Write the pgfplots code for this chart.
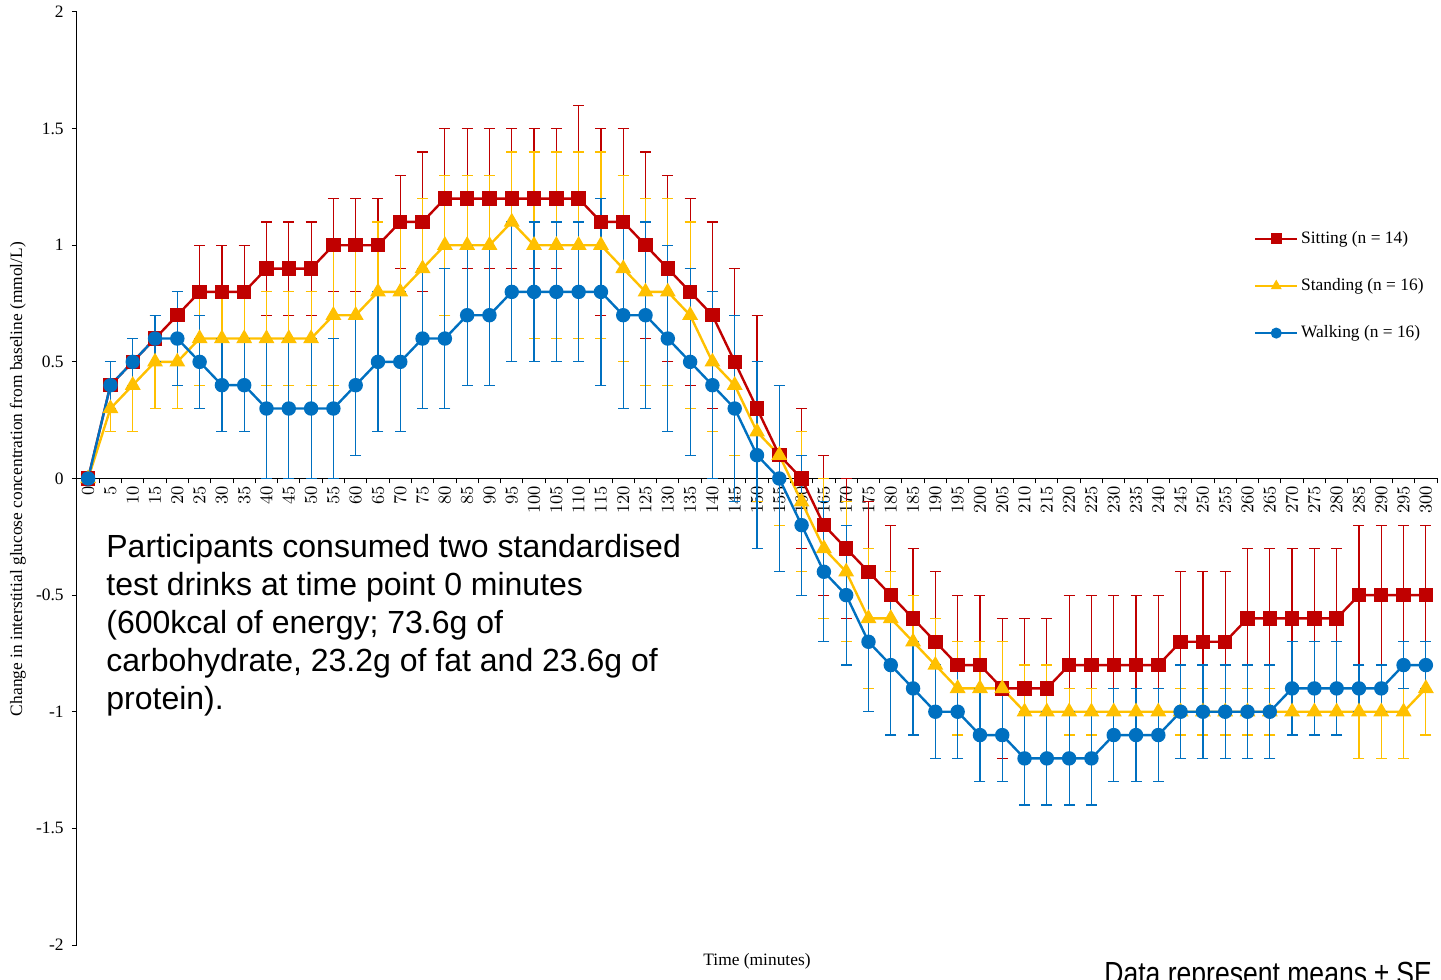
\documentclass[border=0pt]{standalone}
\usepackage{fontspec}
\setmainfont{Liberation Serif}
\newfontfamily\arial{Liberation Sans}
\usepackage{pgfplots}
\pgfplotsset{compat=1.18}
\usepackage{pgfplotstable}
\definecolor{sitC}{HTML}{C00000}
\definecolor{staC}{HTML}{FFC000}
\definecolor{walC}{HTML}{0070C0}

\pgfplotstableread{
t m e
0 0 0
5 0.4 0.1
10 0.5 0.1
15 0.6 0.1
20 0.7 0.1
25 0.8 0.2
30 0.8 0.2
35 0.8 0.2
40 0.9 0.2
45 0.9 0.2
50 0.9 0.2
55 1.0 0.2
60 1.0 0.2
65 1.0 0.2
70 1.1 0.2
75 1.1 0.3
80 1.2 0.3
85 1.2 0.3
90 1.2 0.3
95 1.2 0.3
100 1.2 0.3
105 1.2 0.3
110 1.2 0.4
115 1.1 0.4
120 1.1 0.4
125 1.0 0.4
130 0.9 0.4
135 0.8 0.4
140 0.7 0.4
145 0.5 0.4
150 0.3 0.4
155 0.1 0.3
160 0.0 0.3
165 -0.2 0.3
170 -0.3 0.3
175 -0.4 0.3
180 -0.5 0.3
185 -0.6 0.3
190 -0.7 0.3
195 -0.8 0.3
200 -0.8 0.3
205 -0.9 0.3
210 -0.9 0.3
215 -0.9 0.3
220 -0.8 0.3
225 -0.8 0.3
230 -0.8 0.3
235 -0.8 0.3
240 -0.8 0.3
245 -0.7 0.3
250 -0.7 0.3
255 -0.7 0.3
260 -0.6 0.3
265 -0.6 0.3
270 -0.6 0.3
275 -0.6 0.3
280 -0.6 0.3
285 -0.5 0.3
290 -0.5 0.3
295 -0.5 0.3
300 -0.5 0.3
}\sitting

\pgfplotstableread{
t m e
0 0 0
5 0.3 0.1
10 0.4 0.2
15 0.5 0.2
20 0.5 0.2
25 0.6 0.2
30 0.6 0.2
35 0.6 0.2
40 0.6 0.2
45 0.6 0.2
50 0.6 0.2
55 0.7 0.3
60 0.7 0.3
65 0.8 0.3
70 0.8 0.3
75 0.9 0.3
80 1.0 0.3
85 1.0 0.3
90 1.0 0.3
95 1.1 0.3
100 1.0 0.4
105 1.0 0.4
110 1.0 0.4
115 1.0 0.4
120 0.9 0.4
125 0.8 0.4
130 0.8 0.4
135 0.7 0.4
140 0.5 0.3
145 0.4 0.3
150 0.2 0.3
155 0.1 0.3
160 -0.1 0.3
165 -0.3 0.3
170 -0.4 0.3
175 -0.6 0.3
180 -0.6 0.2
185 -0.7 0.2
190 -0.8 0.2
195 -0.9 0.2
200 -0.9 0.2
205 -0.9 0.2
210 -1.0 0.2
215 -1.0 0.2
220 -1.0 0.1
225 -1.0 0.1
230 -1.0 0.1
235 -1.0 0.1
240 -1.0 0.1
245 -1.0 0.1
250 -1.0 0.1
255 -1.0 0.1
260 -1.0 0.1
265 -1.0 0.1
270 -1.0 0.1
275 -1.0 0.1
280 -1.0 0.1
285 -1.0 0.2
290 -1.0 0.2
295 -1.0 0.2
300 -0.9 0.2
}\standing

\pgfplotstableread{
t m e
0 0 0
5 0.4 0.1
10 0.5 0.1
15 0.6 0.1
20 0.6 0.2
25 0.5 0.2
30 0.4 0.2
35 0.4 0.2
40 0.3 0.3
45 0.3 0.3
50 0.3 0.3
55 0.3 0.3
60 0.4 0.3
65 0.5 0.3
70 0.5 0.3
75 0.6 0.3
80 0.6 0.3
85 0.7 0.3
90 0.7 0.3
95 0.8 0.3
100 0.8 0.3
105 0.8 0.3
110 0.8 0.3
115 0.8 0.4
120 0.7 0.4
125 0.7 0.4
130 0.6 0.4
135 0.5 0.4
140 0.4 0.4
145 0.3 0.4
150 0.1 0.4
155 0.0 0.4
160 -0.2 0.3
165 -0.4 0.3
170 -0.5 0.3
175 -0.7 0.3
180 -0.8 0.3
185 -0.9 0.2
190 -1.0 0.2
195 -1.0 0.2
200 -1.1 0.2
205 -1.1 0.2
210 -1.2 0.2
215 -1.2 0.2
220 -1.2 0.2
225 -1.2 0.2
230 -1.1 0.2
235 -1.1 0.2
240 -1.1 0.2
245 -1.0 0.2
250 -1.0 0.2
255 -1.0 0.2
260 -1.0 0.2
265 -1.0 0.2
270 -0.9 0.2
275 -0.9 0.2
280 -0.9 0.2
285 -0.9 0.1
290 -0.9 0.1
295 -0.8 0.1
300 -0.8 0.1
}\walking

\begin{document}
\begin{tikzpicture}
\begin{axis}[
  at={(38.5pt,17.5pt)}, anchor=south west,
  scale only axis, width=680pt, height=466.5pt,
  xmin=-2.5, xmax=302.5, ymin=-2, ymax=2,
  axis x line*=middle, axis y line*=left,
  axis line style={line width=0.5pt, black},
  tick align=outside,
  xtick={0,5,...,300},
  minor xtick={2.5,7.5,...,302.5},
  major x tick style={draw=none},
  minor x tick style={black, line width=0.5pt},
  minor tick length=2.5pt,
  major tick length=2.5pt,
  ytick={-2,-1.5,...,2},
  yticklabels={-2,-1.5,-1,-0.5,0,0.5,1,1.5,2},
  ytick style={black, line width=0.5pt},
  ticklabel style={font=\fontsize{8.7}{10}\selectfont},
  xticklabel style={rotate=90, anchor=east, inner sep=1pt},
  yticklabel style={inner sep=1pt, xshift=-3pt},
  legend style={draw=none, fill=none, at={(axis description cs:0.8654,0.7063)}, anchor=west,
    row sep=13pt, font=\fontsize{8.7}{10}\selectfont, inner sep=0pt, nodes={inner sep=1.5pt}},
  legend cell align=left,
  legend image code/.code={\draw[mark repeat=2,mark phase=2,#1,line width=0.9pt,mark size=2.3pt] plot coordinates {(0pt,0pt) (10.5pt,0pt) (21pt,0pt)};},
  clip=false,
]
\addplot[color=sitC, line width=1.2pt, mark=square*, mark size=3pt, mark options={solid},
  error bars/y dir=both, error bars/y explicit,
  error bars/error bar style={line width=0.6pt},
  error bars/error mark options={rotate=90, mark size=2.75pt, line width=0.6pt}]
  table[x=t, y=m, y error=e]{\sitting};
\addlegendentry{Sitting (n = 14)}
\addplot[color=staC, line width=1.2pt, mark=triangle*, mark size=3.4pt, mark options={solid},
  error bars/y dir=both, error bars/y explicit,
  error bars/error bar style={line width=0.6pt},
  error bars/error mark options={rotate=90, mark size=2.75pt, line width=0.6pt}]
  table[x=t, y=m, y error=e]{\standing};
\addlegendentry{Standing (n = 16)}
\addplot[color=walC, line width=1.2pt, mark=*, mark size=3pt, mark options={solid},
  error bars/y dir=both, error bars/y explicit,
  error bars/error bar style={line width=0.6pt},
  error bars/error mark options={rotate=90, mark size=2.75pt, line width=0.6pt}]
  table[x=t, y=m, y error=e]{\walking};
\addlegendentry{Walking (n = 16)}
\end{axis}
\begin{scope}[x=0.5pt,y=0.5pt]
\node[rotate=90, font=\fontsize{8.7}{10}\selectfont, inner sep=0pt] at (18,501)
  {Change in interstitial glucose concentration from baseline (mmol/L)};
\node[font=\fontsize{8.7}{10}\selectfont, inner sep=0pt] at (757,19) {Time (minutes)};
\begin{scope}[every node/.style={anchor=base west, inner sep=0pt, font=\arial\fontsize{16}{19}\selectfont}]
\node at (106,422) {Participants consumed two standardised};
\node at (106,384) {test drinks at time point 0 minutes};
\node at (106,346) {(600kcal of energy; 73.6g of};
\node at (106,308) {carbohydrate, 23.2g of fat and 23.6g of};
\node at (106,270) {protein).};
\node[xscale=0.83] at (1104,-5) {Data represent means ± SE};
\end{scope}
\pgfresetboundingbox
\path[use as bounding box] (0,0) rectangle (1441,980);
\end{scope}
\end{tikzpicture}
\end{document}
